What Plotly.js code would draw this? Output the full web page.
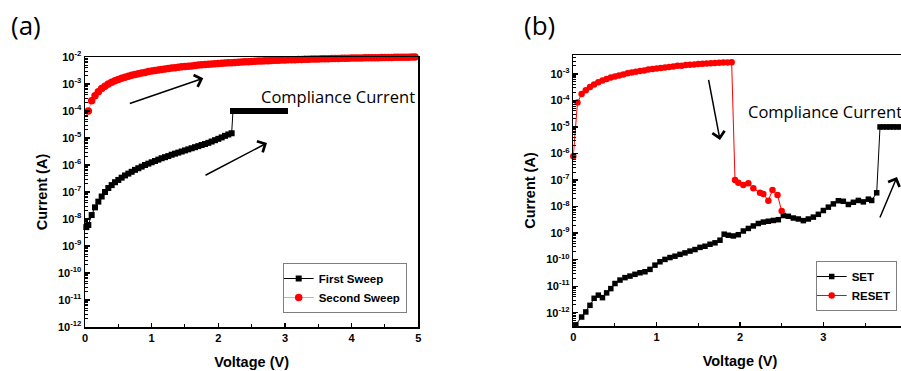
<!DOCTYPE html>
<html>
<head>
<meta charset="utf-8">
<script src="https://cdn.plot.ly/plotly-3.0.1.min.js"></script>
<style>
html, body { margin:0; padding:0; overflow:hidden; background:#fff; }
#chart { width:1000px; height:371px; }
</style>
</head>
<body>
<div id="chart"></div>
<script>
// ---------- Panel (a) data ----------
const voltsFirst = [0.02,0.05,0.10,0.15,0.20,0.25,0.30,0.35,0.40,0.45,0.50,0.55,0.60,0.65,0.70,0.75,0.80,0.85,0.90,0.95,
  1.00,1.05,1.10,1.15,1.20,1.25,1.30,1.35,1.40,1.45,1.50,1.55,1.60,1.65,1.70,1.75,1.80,1.85,1.90,1.95,
  2.00,2.05,2.10,2.15,2.20,
  2.22,2.25,2.30,2.35,2.40,2.45,2.50,2.55,2.60,2.65,2.70,2.75,2.80,2.85,2.90,2.95,3.00];
const currentFirst = [5.0e-9,6.0e-9,1.4e-8,2.7e-8,4.4e-8,6.8e-8,1.0e-7,1.4e-7,1.8e-7,2.3e-7,2.8e-7,3.4e-7,4.1e-7,4.8e-7,5.6e-7,6.6e-7,7.6e-7,8.7e-7,1.0e-6,1.12e-6,
  1.26e-6,1.41e-6,1.58e-6,1.78e-6,1.95e-6,2.14e-6,2.4e-6,2.63e-6,2.88e-6,3.16e-6,3.47e-6,3.8e-6,4.17e-6,4.57e-6,5.0e-6,5.5e-6,6.0e-6,6.6e-6,7.4e-6,8.3e-6,
  9.3e-6,1.05e-5,1.2e-5,1.35e-5,1.5e-5,
  1e-4,1e-4,1e-4,1e-4,1e-4,1e-4,1e-4,1e-4,1e-4,1e-4,1e-4,1e-4,1e-4,1e-4,1e-4,1e-4,1e-4];

const voltsSecond = [0.05,0.10,0.15,0.20,0.25,0.30,0.35,0.40,0.45,0.50,0.55,0.60,0.65,0.70,0.75,0.80,0.85,0.90,0.95,1.00,
  1.05,1.10,1.15,1.20,1.25,1.30,1.35,1.40,1.45,1.50,1.55,1.60,1.65,1.70,1.75,1.80,1.85,1.90,1.95,2.00,
  2.05,2.10,2.15,2.20,2.25,2.30,2.35,2.40,2.45,2.50,2.55,2.60,2.65,2.70,2.75,2.80,2.85,2.90,2.95,3.00,
  3.05,3.10,3.15,3.20,3.25,3.30,3.35,3.40,3.45,3.50,3.55,3.60,3.65,3.70,3.75,3.80,3.85,3.90,3.95,4.00,
  4.05,4.10,4.15,4.20,4.25,4.30,4.35,4.40,4.45,4.50,4.55,4.60,4.65,4.70,4.75,4.80,4.85,4.90,4.95,5.00];
const currentSecond = [1.0e-4,2.4e-4,3.7e-4,5.2e-4,6.8e-4,8.3e-4,1.0e-3,1.15e-3,1.32e-3,1.48e-3,1.62e-3,1.78e-3,1.95e-3,2.09e-3,2.24e-3,2.40e-3,2.57e-3,2.69e-3,2.88e-3,3.02e-3,
  3.16e-3,3.31e-3,3.47e-3,3.63e-3,3.76e-3,3.89e-3,4.03e-3,4.17e-3,4.32e-3,4.47e-3,4.57e-3,4.68e-3,4.84e-3,5.01e-3,5.13e-3,5.25e-3,5.37e-3,5.50e-3,5.62e-3,5.75e-3,
  5.86e-3,5.96e-3,6.07e-3,6.17e-3,6.28e-3,6.38e-3,6.50e-3,6.61e-3,6.73e-3,6.84e-3,6.97e-3,7.08e-3,7.16e-3,7.24e-3,7.33e-3,7.41e-3,7.50e-3,7.59e-3,7.67e-3,7.76e-3,
  7.83e-3,7.90e-3,7.98e-3,8.06e-3,8.13e-3,8.21e-3,8.28e-3,8.36e-3,8.43e-3,8.51e-3,8.57e-3,8.63e-3,8.69e-3,8.75e-3,8.81e-3,8.87e-3,8.93e-3,8.99e-3,9.05e-3,9.12e-3,
  9.16e-3,9.20e-3,9.25e-3,9.29e-3,9.33e-3,9.38e-3,9.42e-3,9.46e-3,9.51e-3,9.55e-3,9.60e-3,9.64e-3,9.69e-3,9.73e-3,9.78e-3,9.82e-3,9.87e-3,9.91e-3,9.96e-3,1.0e-2];

// ---------- Panel (b) data ----------
const voltsSet = [0.03,0.10,0.15,0.20,0.25,0.30,0.35,0.40,0.45,0.50,0.56,0.62,0.68,0.74,0.80,0.86,0.92,0.98,
  1.04,1.10,1.16,1.22,1.28,1.34,1.40,1.46,1.52,1.58,1.64,1.70,1.76,1.81,1.86,1.92,1.98,
  2.04,2.10,2.16,2.22,2.28,2.34,2.40,2.46,2.52,2.58,2.64,2.70,2.76,2.82,2.88,2.94,3.00,
  3.06,3.12,3.18,3.24,3.30,3.36,3.42,3.48,3.54,3.58,3.64,
  3.68,3.72,3.76,3.80,3.84,3.88,3.92,3.96,4.00];
const currentSet = [3.5e-13,6.9e-13,1.07e-12,1.9e-12,3.5e-12,4.6e-12,3.7e-12,5.6e-12,8.1e-12,1.26e-11,1.7e-11,2.1e-11,2.4e-11,2.8e-11,3.2e-11,3.5e-11,4.3e-11,6.2e-11,
  8.3e-11,1.02e-10,1.2e-10,1.35e-10,1.58e-10,1.8e-10,2.1e-10,2.4e-10,2.9e-10,3.2e-10,3.8e-10,4.3e-10,5.4e-10,9.1e-10,8.3e-10,7.8e-10,8.7e-10,
  1.2e-9,1.5e-9,1.86e-9,2.3e-9,2.6e-9,2.8e-9,3.0e-9,3.2e-9,4.6e-9,4.3e-9,3.7e-9,3.4e-9,2.95e-9,3.4e-9,4.0e-9,5.1e-9,7.1e-9,
  9.5e-9,1.26e-8,1.66e-8,1.58e-8,1.2e-8,1.45e-8,1.7e-8,1.5e-8,1.9e-8,1.7e-8,3.3e-8,
  1e-5,1e-5,1e-5,1e-5,1e-5,1e-5,1e-5,1e-5,1e-5];

const voltsReset = [0.00,0.05,0.10,0.15,0.20,0.25,0.30,0.35,0.40,0.45,0.50,0.55,0.60,0.65,0.70,0.75,0.80,0.85,0.90,0.95,
  1.00,1.05,1.10,1.15,1.20,1.25,1.30,1.35,1.40,1.45,1.50,1.55,1.60,1.65,1.70,1.75,1.80,1.85,1.90,
  1.94,1.98,2.04,2.10,2.16,2.24,2.28,2.34,2.39,2.45,2.50];
const currentReset = [7.9e-7,8.3e-5,1.74e-4,2.4e-4,3.16e-4,3.98e-4,4.79e-4,5.62e-4,6.46e-4,7.24e-4,7.94e-4,8.71e-4,9.55e-4,1.05e-3,1.12e-3,1.20e-3,1.29e-3,1.35e-3,1.45e-3,1.51e-3,
  1.58e-3,1.66e-3,1.74e-3,1.82e-3,1.91e-3,2.00e-3,2.04e-3,2.14e-3,2.19e-3,2.26e-3,2.34e-3,2.40e-3,2.45e-3,2.51e-3,2.57e-3,2.63e-3,2.66e-3,2.69e-3,2.72e-3,
  1.0e-7,7.9e-8,6.5e-8,7.6e-8,4.9e-8,3.3e-8,3.0e-8,1.66e-8,4.2e-8,2.7e-8,6.8e-9];

// ---------- tick labels ----------
const xTicksA = [0,1,2,3,4,5];
const xTicksB = [0,1,2,3];
const yExpA = [-12,-11,-10,-9,-8,-7,-6,-5,-4,-3,-2];
const yExpB = [-12,-11,-10,-9,-8,-7,-6,-5,-4,-3];
const yValsA = yExpA.map(e => Math.pow(10, e));
const yTextA = yExpA.map(e => '10<sup>' + e + '</sup>');
const yValsB = yExpB.map(e => Math.pow(10, e));
const yTextB = yExpB.map(e => '10<sup>' + e + '</sup>');

const W = 1000, H = 371;
const px = v => v / W;
const py = v => 1 - v / H;

const tickFont = {family:'Liberation Sans, Arial, sans-serif', size:11, color:'#000', weight:'bold'};
const titleFont = {family:'Liberation Sans, Arial, sans-serif', size:14.5, color:'#000', weight:'bold'};

function xAxis(domain, range, ticks, anchor) {
  return {
    domain: domain, range: range, anchor: anchor,
    tickmode:'array', tickvals: ticks, ticktext: ticks.map(String),
    ticks:'inside', ticklen:4.5, tickwidth:1.3, tickcolor:'#000',
    minor:{dtick:0.5, tick0:0, ticks:'inside', ticklen:3, tickwidth:1, tickcolor:'#000', showgrid:false},
    showline:true, linewidth:1.5, linecolor:'#000', mirror:true,
    showgrid:false, zeroline:false, tickfont: tickFont,
    title:{text:'Voltage (V)', font: titleFont, standoff: 14}
  };
}
function yAxis(domain, range, vals, text, anchor) {
  return {
    domain: domain, range: range, anchor: anchor, type:'log',
    tickmode:'array', tickvals: vals, ticktext: text,
    ticks:'inside', ticklen:4.5, tickwidth:1.3, tickcolor:'#000',
    minor:{dtick:'D1', ticks:'inside', ticklen:2.5, tickwidth:1, tickcolor:'#000', showgrid:false},
    showline:true, linewidth:1.5, linecolor:'#000', mirror:true,
    showgrid:false, zeroline:false, tickfont: tickFont,
    title:{text:'Current (A)', font: titleFont, standoff: 7}
  };
}

const traces = [
  {x: voltsFirst, y: currentFirst, name:'First Sweep', type:'scatter', mode:'lines+markers',
   xaxis:'x', yaxis:'y', legend:'legend', cliponaxis:false,
   line:{color:'#000', width:1}, marker:{symbol:'square', size:6, color:'#000'}},
  {x: voltsSecond, y: currentSecond, name:'Second Sweep', type:'scatter', mode:'lines+markers',
   xaxis:'x', yaxis:'y', legend:'legend', cliponaxis:false,
   line:{color:'#f2a0a0', width:1}, marker:{symbol:'circle', size:7.5, color:'#ff0000'}},
  {x: voltsSet, y: currentSet, name:'SET', type:'scatter', mode:'lines+markers',
   xaxis:'x2', yaxis:'y2', legend:'legend2', cliponaxis:false,
   line:{color:'#000', width:1}, marker:{symbol:'square', size:5.5, color:'#000'}},
  {x: voltsReset, y: currentReset, name:'RESET', type:'scatter', mode:'lines+markers',
   xaxis:'x2', yaxis:'y2', legend:'legend2', cliponaxis:false,
   line:{color:'#ff0000', width:1}, marker:{symbol:'circle', size:6.5, color:'#ff0000'}}
];

const labelFont = {family:'Open Sans, Noto Sans, sans-serif', size:26, color:'#000', weight:'normal'};
const noteFont = {family:'Open Sans, Noto Sans, sans-serif', size:16.5, color:'#000', weight:'normal'};
function arrow(hx, hy, tx, ty) {
  return {xref:'paper', yref:'paper', x:px(hx), y:py(hy), ax:tx-hx, ay:ty-hy,
          axref:'pixel', ayref:'pixel', text:'', showarrow:true,
          arrowhead:4, arrowsize:1.6, arrowwidth:1.5, arrowcolor:'#000'};
}
function label(x, y, text, font) {
  return {xref:'paper', yref:'paper', x:px(x), y:py(y), xanchor:'left', yanchor:'top',
          text:text, showarrow:false, font:font};
}
const legendFont = {size:11.5, color:'#000', weight:'bold', family:'Liberation Sans, Arial, sans-serif'};

const layout = {
  width: W, height: H,
  margin:{l:0, r:0, t:0, b:0},
  paper_bgcolor:'#fff', plot_bgcolor:'#fff',
  font:{family:'Liberation Sans, Arial, sans-serif', color:'#000', weight:'bold'},
  showlegend:true,
  xaxis: xAxis([px(85), px(418.3)], [0,5], xTicksA, 'y'),
  yaxis: yAxis([1-327/H, 1-57/H], [-12,-2], yValsA, yTextA, 'x'),
  xaxis2: xAxis([px(573.3), px(906.7)], [0,4], xTicksB, 'y2'),
  yaxis2: yAxis([1-326/H, 1-55/H], [-12.5,-2.29], yValsB, yTextB, 'x2'),
  legend:{x:px(282.7), y:py(263), xanchor:'left', yanchor:'top', bgcolor:'#fff', indentation:-5,
          bordercolor:'#7f7f7f', borderwidth:1, font:legendFont},
  legend2:{x:px(815.7), y:py(261), xanchor:'left', yanchor:'top', bgcolor:'#fff', indentation:-5,
          bordercolor:'#7f7f7f', borderwidth:1, font:legendFont},
  annotations:[
    label(9, 4.5, '(a)', labelFont),
    label(521.5, 4.5, '(b)', labelFont),
    label(259, 83.3, 'Compliance Current', noteFont),
    label(745.7, 98.3, 'Compliance Current', noteFont),
    arrow(203.3, 78.3, 128.3, 104),
    arrow(267, 143, 204, 176),
    arrow(720, 140, 708.3, 78.3),
    arrow(897, 177, 879.3, 219)
  ]
};

Plotly.newPlot('chart', traces, layout, {displayModeBar:false, staticPlot:true});
</script>
</body>
</html>
